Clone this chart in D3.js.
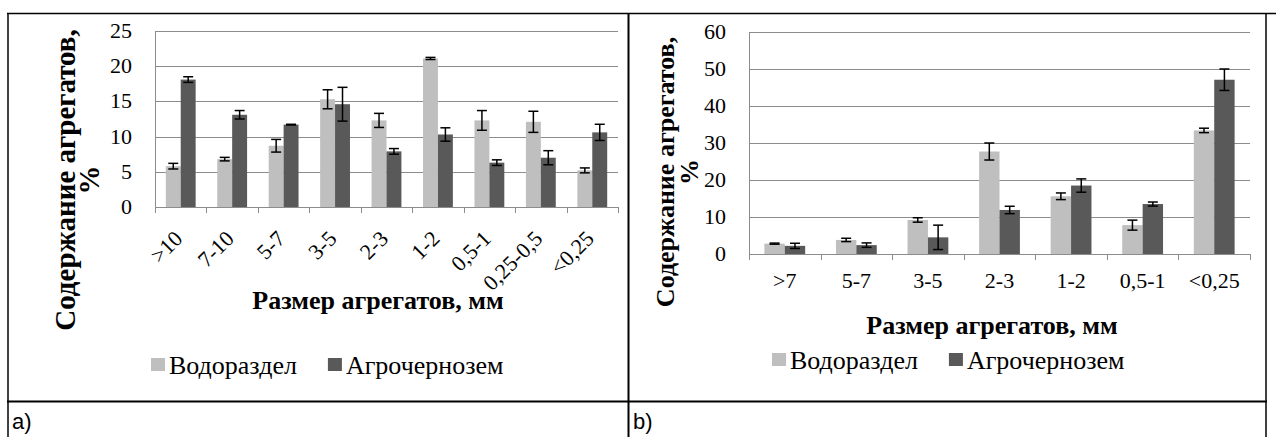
<!DOCTYPE html>
<html>
<head>
<meta charset="utf-8">
<script src="https://cdn.jsdelivr.net/npm/d3@7/dist/d3.min.js"></script>
<style>
  html, body { margin: 0; padding: 0; background: #fff; }
  svg { display: block; }
  .serif { font-family: "Liberation Serif", "DejaVu Serif", "Times New Roman", serif; }
  .sans { font-family: "Liberation Sans", Arial, sans-serif; }
</style>
</head>
<body>
<svg id="fig" width="1276" height="437"></svg>
<script>
// ---- Panel a: aggregate size fractions, %
const catsA = [">10", "7-10", "5-7", "3-5", "2-3", "1-2", "0,5-1", "0,25-0,5", "<0,25"];
const vodA = [5.8, 6.8, 8.7, 15.3, 12.3, 21.1, 12.3, 12.1, 5.2];
const vodErrA = [0.4, 0.25, 0.9, 1.35, 1.0, 0.15, 1.4, 1.5, 0.35];
const agroA = [18.1, 13.1, 11.7, 14.6, 7.9, 10.3, 6.3, 7.0, 10.6];
const agroErrA = [0.4, 0.6, 0.05, 2.4, 0.4, 0.95, 0.4, 1.0, 1.15];
const ticksA = [0, 5, 10, 15, 20, 25];

// ---- Panel b
const catsB = [">7", "5-7", "3-5", "2-3", "1-2", "0,5-1", "<0,25"];
const vodB = [2.8, 3.8, 9.2, 27.7, 15.6, 7.8, 33.4];
const vodErrB = [0.15, 0.45, 0.6, 2.3, 0.9, 1.35, 0.6];
const agroB = [2.2, 2.4, 4.5, 11.9, 18.5, 13.5, 47.1];
const agroErrB = [0.7, 0.6, 3.3, 1.0, 1.8, 0.55, 2.9];
const ticksB = [0, 10, 20, 30, 40, 50, 60];

const seriesNames = ["Водораздел", "Агрочернозем"];
const seriesColors = ["#bfbfbf", "#595959"];
const yTitle = "Содержание агрегатов,";
const xTitle = "Размер агрегатов, мм";

const GRID = "#8c8c8c";

const svg = d3.select("#fig");

// table frame around the two panels
const frame = svg.append("g").attr("stroke", "#000").attr("fill", "none");
frame.append("line").attr("x1", 7).attr("x2", 1276).attr("y1", 13.5).attr("y2", 13.5).attr("stroke-width", 1.5);
frame.append("line").attr("x1", 7).attr("x2", 1267).attr("y1", 401.5).attr("y2", 401.5).attr("stroke-width", 2);
frame.append("line").attr("x1", 8).attr("x2", 8).attr("y1", 13).attr("y2", 437).attr("stroke-width", 1.5);
frame.append("line").attr("x1", 628.5).attr("x2", 628.5).attr("y1", 13).attr("y2", 437).attr("stroke-width", 2);
frame.append("line").attr("x1", 1266).attr("x2", 1266).attr("y1", 13).attr("y2", 437).attr("stroke-width", 1.5);

svg.append("text").attr("class", "sans").attr("x", 12).attr("y", 429).attr("font-size", 22).text("a)");
svg.append("text").attr("class", "sans").attr("x", 633).attr("y", 429).attr("font-size", 22).text("b)");

function drawPanel(cfg) {
  const g = svg.append("g");
  const x = d3.scaleBand().domain(cfg.cats).range([cfg.left, cfg.right]).paddingInner(cfg.pad).paddingOuter(cfg.pad / 2);
  const xs = d3.scaleBand().domain([0, 1]).range([0, x.bandwidth()]);
  const y = d3.scaleLinear().domain([0, d3.max(cfg.ticks)]).range([cfg.bottom, cfg.top]);

  // horizontal gridlines
  g.append("g").selectAll("line").data(cfg.ticks).join("line")
    .attr("x1", cfg.left).attr("x2", cfg.right)
    .attr("y1", d => Math.round(y(d)) + 0.5).attr("y2", d => Math.round(y(d)) + 0.5)
    .attr("stroke", GRID).attr("stroke-width", 1);
  // vertical axis line
  g.append("line").attr("x1", cfg.left + 0.5).attr("x2", cfg.left + 0.5)
    .attr("y1", y(d3.max(cfg.ticks))).attr("y2", cfg.bottom + 0.5)
    .attr("stroke", GRID);
  // category tick marks at band boundaries
  const bounds = cfg.cats.map(c => x(c) - x.step() * cfg.pad / 2).concat([cfg.right]);
  g.append("g").selectAll("line").data(bounds).join("line")
    .attr("x1", d => Math.round(d) + 0.5).attr("x2", d => Math.round(d) + 0.5)
    .attr("y1", cfg.bottom).attr("y2", cfg.bottom + 6)
    .attr("stroke", GRID);

  // y tick labels
  g.append("g").selectAll("text").data(cfg.ticks).join("text")
    .attr("class", "serif")
    .attr("x", cfg.left - 23).attr("y", d => y(d) + 7)
    .attr("text-anchor", "end").attr("font-size", 22)
    .text(d => d);

  // bars
  const series = [cfg.vod, cfg.agro];
  const errs = [cfg.vodErr, cfg.agroErr];
  series.forEach((vals, si) => {
    g.append("g").selectAll("rect").data(vals).join("rect")
      .attr("x", (d, i) => x(cfg.cats[i]) + xs(si))
      .attr("width", xs.bandwidth())
      .attr("y", d => y(d))
      .attr("height", d => cfg.bottom - y(d))
      .attr("fill", seriesColors[si]);
  });
  // error bars
  series.forEach((vals, si) => {
    const eg = g.append("g").attr("stroke", "#000").attr("stroke-width", 1.5);
    vals.forEach((v, i) => {
      const cx = x(cfg.cats[i]) + xs(si) + xs.bandwidth() / 2;
      const e = errs[si][i];
      const y1 = y(v + e), y2 = y(v - e);
      eg.append("line").attr("x1", cx).attr("x2", cx).attr("y1", y1).attr("y2", y2);
      eg.append("line").attr("x1", cx - 5).attr("x2", cx + 5).attr("y1", y1).attr("y2", y1);
      eg.append("line").attr("x1", cx - 5).attr("x2", cx + 5).attr("y1", y2).attr("y2", y2);
    });
  });

  // x tick labels
  const xl = g.append("g").selectAll("text").data(cfg.cats).join("text")
    .attr("class", "serif").attr("font-size", 22).text(d => d);
  if (cfg.rotate) {
    xl.attr("text-anchor", "end")
      .attr("transform", d => `translate(${x(d) + x.bandwidth() / 2 + 3},${cfg.xLabelY}) rotate(-45)`);
  } else {
    xl.attr("text-anchor", "middle")
      .attr("x", d => x(d) + x.bandwidth() / 2).attr("y", cfg.xLabelY);
  }

  // axis titles
  g.append("text").attr("class", "serif").attr("x", cfg.xTitleX).attr("y", cfg.xTitleY)
    .attr("text-anchor", "middle").attr("font-weight", "bold")
    .attr("font-size", cfg.titleSize).text(xTitle);
  const yt = g.append("text").attr("class", "serif")
    .attr("transform", `translate(${cfg.yTitleX},${cfg.yTitleY}) rotate(-90)`)
    .attr("text-anchor", "middle").attr("font-weight", "bold")
    .attr("font-size", cfg.yTitleSize);
  yt.append("tspan").attr("x", 0).attr("y", 0).text(yTitle);
  yt.append("tspan").attr("x", 0).attr("y", 24).text("%");

  // legend
  const lg = g.append("g").attr("transform", `translate(${cfg.legendX},${cfg.legendY})`);
  let lx = 0;
  seriesNames.forEach((name, si) => {
    lg.append("rect").attr("x", lx).attr("y", -7).attr("width", 14).attr("height", 13).attr("fill", seriesColors[si]);
    const t = lg.append("text").attr("class", "serif").attr("x", lx + 18).attr("y", 9)
      .attr("font-size", 26).text(name);
    lx += 18 + t.node().getComputedTextLength() + 31;
  });
}

drawPanel({
  cats: catsA, vod: vodA, vodErr: vodErrA, agro: agroA, agroErr: agroErrA, ticks: ticksA,
  left: 155, right: 618, top: 31, bottom: 207, pad: 0.42, rotate: true, xLabelY: 240,
  xTitleX: 378, xTitleY: 309, titleSize: 26,
  yTitleX: 75, yTitleY: 180, yTitleSize: 29,
  legendX: 151, legendY: 365
});

drawPanel({
  cats: catsB, vod: vodB, vodErr: vodErrB, agro: agroB, agroErr: agroErrB, ticks: ticksB,
  left: 749, right: 1250, top: 32, bottom: 254, pad: 0.43, rotate: false, xLabelY: 288,
  xTitleX: 992, xTitleY: 334, titleSize: 26,
  yTitleX: 674, yTitleY: 172, yTitleSize: 26,
  legendX: 772, legendY: 360
});
</script>
</body>
</html>
